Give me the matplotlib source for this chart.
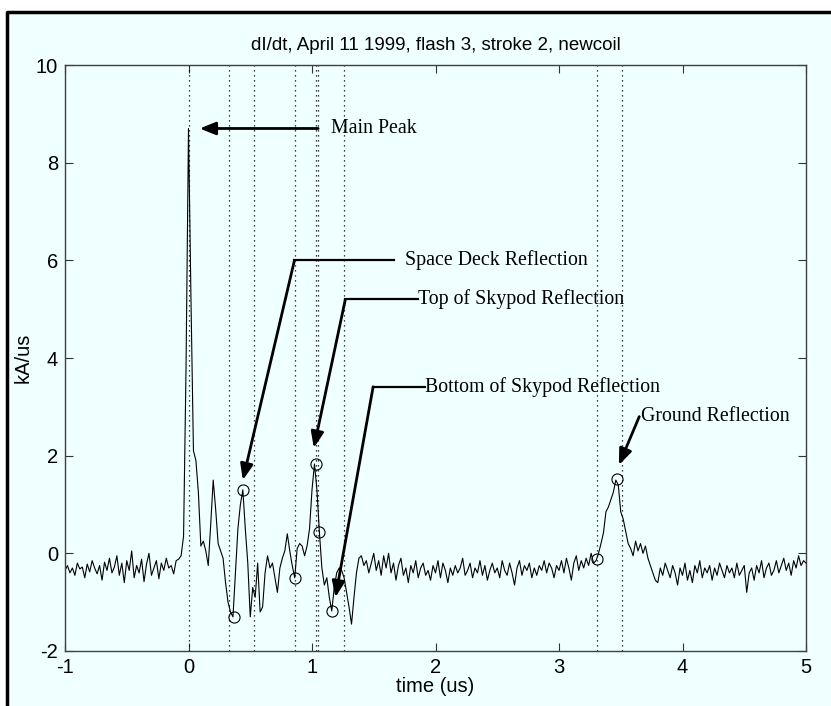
import numpy as np
import matplotlib
matplotlib.use("Agg")
import matplotlib.pyplot as plt
from matplotlib.lines import Line2D
from matplotlib.patches import Rectangle

# sampled dI/dt record, 0.02 us spacing starting at -1 us
t_start = -1.0
dt = 0.02
didt = [
    -0.35, -0.25, -0.40, -0.30, -0.45, -0.20, -0.32, -0.28, -0.50, -0.22,
    -0.38, -0.15, -0.30, -0.42, -0.25, -0.55, -0.18, -0.35, -0.10, -0.40,
    -0.28, -0.05, -0.45, -0.20, -0.60, -0.15, -0.35, 0.05, -0.50, -0.25,
    -0.40, -0.12, -0.58, -0.22, 0.00, -0.45, -0.30, -0.15, -0.52, -0.20,
    -0.35, -0.10, -0.30, -0.25, -0.42, -0.15, -0.12, -0.05, 0.35, 3.80,
    8.70, 5.20, 2.10, 1.90, 1.25, 0.15, 0.25, 0.05, -0.25, 0.60,
    1.50, 0.90, 0.20, 0.05, -0.10, -0.60, -1.00, -1.20, -1.30, -0.40,
    0.50, 1.00, 1.30, 0.50, -0.20, -1.30, -0.70, -0.90, -0.20, -1.20,
    -1.10, -0.40, -0.05, -0.30, -0.20, -0.50, -0.80, -0.30, -0.10, 0.05,
    0.40, 0.05, -0.25, -0.50, 0.10, 0.20, 0.15, -0.05, 0.15, 0.50,
    1.30, 1.83, 1.30, 0.43, -0.30, -0.65, -0.50, -0.90, -1.18, -0.70,
    -0.40, -0.30, -0.35, -0.50, -0.80, -1.10, -1.45, -0.90, -0.40, -0.10,
    -0.05, -0.25, -0.15, -0.40, -0.20, 0.00, -0.35, -0.15, -0.45, -0.05,
    -0.30, 0.00, -0.40, -0.20, -0.55, -0.25, -0.10, -0.45, -0.30, -0.60,
    -0.25, -0.40, -0.15, -0.50, -0.30, -0.20, -0.45, -0.35, -0.55, -0.25,
    -0.40, -0.15, -0.50, -0.20, -0.35, -0.60, -0.30, -0.45, -0.25, -0.40,
    -0.30, -0.10, -0.45, -0.35, -0.20, -0.50, -0.30, -0.40, -0.15, -0.45,
    -0.25, -0.55, -0.35, -0.20, -0.40, -0.30, -0.50, -0.15, -0.35, -0.45,
    -0.20, -0.40, -0.65, -0.30, -0.15, -0.45, -0.25, -0.35, -0.20, -0.50,
    -0.30, -0.45, -0.25, -0.35, -0.15, -0.40, -0.20, -0.30, -0.50, -0.25,
    -0.35, -0.15, -0.40, -0.10, -0.30, -0.55, -0.20, -0.05, -0.35, -0.15,
    -0.30, -0.10, -0.25, 0.00, -0.20, -0.15, 0.00, 0.20, 0.42, 0.85,
    0.95, 1.10, 1.25, 1.50, 1.40, 0.85, 0.70, 0.45, 0.20, 0.10,
    -0.05, 0.25, 0.05, 0.20, 0.00, 0.15, -0.10, -0.25, -0.40, -0.55,
    -0.60, -0.30, -0.45, -0.20, -0.35, -0.50, -0.25, -0.40, -0.65, -0.30,
    -0.45, -0.20, -0.55, -0.35, -0.60, -0.25, -0.40, -0.15, -0.50, -0.30,
    -0.40, -0.25, -0.55, -0.30, -0.45, -0.20, -0.35, -0.50, -0.25, -0.40,
    -0.30, -0.50, -0.20, -0.45, -0.35, -0.25, -0.80, -0.40, -0.30, -0.55,
    -0.25, -0.40, -0.15, -0.50, -0.30, -0.20, -0.45, -0.35, -0.15, -0.40,
    -0.25, -0.10, -0.35, -0.20, -0.45, -0.15, -0.30, -0.05, -0.25, -0.15,
    -0.20,
]

# picked points (circles)
mark_t = [0.37, 0.44, 0.86, 1.03, 1.06, 1.16, 3.31, 3.47]
mark_v = [-1.31, 1.29, -0.50, 1.83, 0.43, -1.18, -0.12, 1.52]

# dotted marker lines
vlines = [0.0, 0.33, 0.53, 0.86, 1.035, 1.05, 1.26, 3.31, 3.51]

# annotations: label, text pos, elbow end (or None), arrow tail, arrow tip
notes = [
    ("Main Peak", (1.15, 8.7), None, (1.05, 8.7), (0.09, 8.7)),
    ("Space Deck Reflection", (1.75, 6.0), (1.66, 6.0), (0.858, 6.0), (0.44, 1.5)),
    ("Top of Skypod Reflection", (1.855, 5.2), (1.855, 5.2), (1.27, 5.2), (1.015, 2.16)),
    ("Bottom of Skypod Reflection", (1.915, 3.41), (1.915, 3.41), (1.495, 3.41), (1.19, -0.9)),
    ("Ground Reflection", (3.66, 2.8), None, (3.65, 2.8), (3.485, 1.81)),
]

bg = "#F0FFFF"
t = t_start + dt * np.arange(len(didt))
plt.rcParams["axes.unicode_minus"] = False

fig = plt.figure(figsize=(8.31, 7.06), dpi=100, facecolor="white")
fl, ft = 7 / 831, 1 - 12 / 706
fig.patches.append(Rectangle((fl, 0), 1 - fl, ft, transform=fig.transFigure,
                             facecolor=bg, edgecolor="none", zorder=-10))
fig.add_artist(Line2D([fl, fl, 1], [0, ft, ft], transform=fig.transFigure,
                      color="black", lw=2.5))
ax = fig.add_axes([65 / 831, 1 - 651 / 706, 741 / 831, 586 / 706])
ax.set_facecolor(bg)

for v in vlines:
    ax.axvline(v, color="black", ls=(0, (1, 3)), lw=0.9)

ax.plot(t, didt, color="black", lw=0.8)
ax.plot(mark_t, mark_v, "o", mfc="none", mec="black", ms=8, mew=0.8)

for label, tpos, hend, corner, tip in notes:
    if hend is not None:
        ax.plot([corner[0], hend[0]], [corner[1], hend[1]], color="black", lw=1.6)
    ax.annotate("", xy=tip, xytext=corner,
                arrowprops=dict(arrowstyle="-|>,head_length=0.8,head_width=0.32",
                                mutation_scale=12, lw=2.0, color="black",
                                shrinkA=0, shrinkB=0))
    ax.text(tpos[0], tpos[1], label, ha="left", va="center",
            family="Liberation Serif", fontsize=14.3)

ax.set_xlim(-1, 5)
ax.set_ylim(-2, 10)
ax.set_xticks(range(-1, 6))
ax.set_yticks(range(-2, 11, 2))
ax.tick_params(direction="in", top=True, right=True, length=6,
               labelsize=14.5, color="#333333", pad=5)
for lab in ax.get_xticklabels() + ax.get_yticklabels():
    lab.set_family("Liberation Sans")
for s in ax.spines.values():
    s.set_color("#404040")
    s.set_linewidth(1.0)

ax.set_title("dI/dt, April 11 1999, flash 3, stroke 2, newcoil",
             family="Liberation Sans", fontsize=13.5, pad=11)
ax.set_xlabel("time (us)", family="Liberation Sans", fontsize=14.5, labelpad=0)
ax.set_ylabel("kA/us", family="Liberation Sans", fontsize=14.5, labelpad=2)

fig.savefig("out.png", dpi=100, facecolor="white")
